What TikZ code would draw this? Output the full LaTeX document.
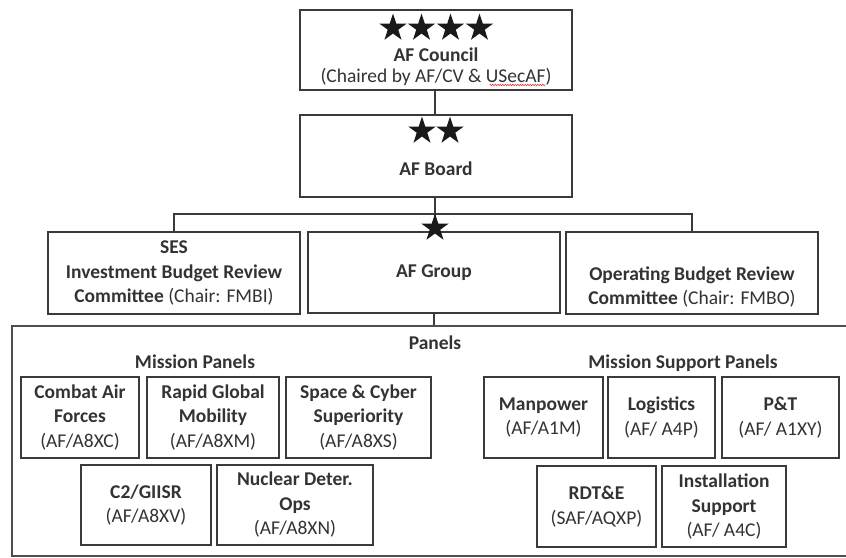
\documentclass[tikz,border=0pt]{standalone}
\usepackage{fontspec}
\setmainfont{Carlito}
\usetikzlibrary{shapes.geometric,decorations.pathmorphing}
\definecolor{ln}{HTML}{3A3A3A}
\definecolor{tx}{HTML}{333333}
\definecolor{squig}{HTML}{D04040}
\tikzset{
  box/.style={draw=ln, line width=1.3pt, inner sep=0pt, align=center, text=tx,
    font=\fontsize{19.5}{24.5}\selectfont},
  conn/.style={draw=ln, line width=1.3pt},
  bigstar/.style={star, star points=5, star point ratio=2.618, fill=black!90, draw=none,
    inner sep=0pt, minimum size=29pt},
  lbl/.style={text=tx, inner sep=0pt, font=\fontsize{19.5}{24.5}\selectfont\bfseries},
}
\begin{document}
\begin{tikzpicture}[x=1pt,y=-1pt]
\clip (0,0) rectangle (846,557);
\fill[white] (0,0) rectangle (846,557);
% top boxes
\node[box, minimum width=272pt, minimum height=80pt] (council) at (436,50) {};
\node[box, minimum width=272pt, minimum height=82pt] (board) at (436,156) {};
\foreach \i/\x in {1/393,2/421.5,3/450.5,4/479.5}
  \node[bigstar] (cs\i) at (\x,28) {};
\foreach \i/\x in {1/422,2/450}
  \node[bigstar] (bs\i) at (\x,131) {};
\node[lbl, anchor=base] (councilt) at (436,61) {AF Council};
\node[lbl, anchor=base, font=\fontsize{19.5}{24.5}\selectfont] (chair) at (436,82) {(Chaired by AF/CV \& USecAF)};
\draw[squig, line width=0.6pt, decorate, decoration={zigzag, amplitude=0.8pt, segment length=2.5pt}]
  (chair.base east) ++(-62,3) coordinate (sqa) -- ++(56,0) coordinate (sqb);
\node[lbl, anchor=base] (boardt) at (436,175) {AF Board};
% second row
\node[box, minimum width=252pt, minimum height=82pt] (ses) at (174,273)
  {\textbf{SES}\\\textbf{Investment Budget Review}\\\textbf{Committee} (Chair: FMBI)};
\node[box, minimum width=252pt, minimum height=81pt] (group) at (434,272.5)
  {\textbf{AF Group}};
\node[box, minimum width=252pt, minimum height=82pt] (ops) at (692,273)
  {\strut\\\textbf{Operating Budget Review}\\\textbf{Committee} (Chair: FMBO)};
% panels frame
\node[box, minimum width=840pt, minimum height=230pt, draw=ln!90] (panels) at (432,441) {};
\node[lbl, anchor=base] (panelst) at (435,349) {Panels};
\node[lbl, anchor=base] (mpt) at (195,368) {Mission Panels};
\node[lbl, anchor=base] (mspt) at (683,368) {Mission Support Panels};
% mission panels
\node[box, minimum width=118pt, minimum height=81pt] (combat) at (80,417.5)
  {\textbf{Combat Air}\\\textbf{Forces}\\(AF/A8XC)};
\node[box, minimum width=132pt, minimum height=81pt] (rapid) at (213,417.5)
  {\textbf{Rapid Global}\\\textbf{Mobility}\\(AF/A8XM)};
\node[box, minimum width=145pt, minimum height=81pt] (space) at (358.5,417.5)
  {\textbf{Space \& Cyber}\\\textbf{Superiority}\\(AF/A8XS)};
\node[box, minimum width=130pt, minimum height=80pt] (c2) at (146,505)
  {\textbf{C2/GIISR}\\(AF/A8XV)};
\node[box, minimum width=156pt, minimum height=80pt] (nuclear) at (295,505)
  {\textbf{Nuclear Deter.}\\\textbf{Ops}\\(AF/A8XN)};
% mission support panels
\node[box, minimum width=119pt, minimum height=81pt] (manpower) at (543.5,417.5)
  {\textbf{Manpower}\\(AF/A1M)};
\node[box, minimum width=107pt, minimum height=81pt] (logistics) at (661.5,417.5)
  {\textbf{Logistics}\\(AF/ A4P)};
\node[box, minimum width=117pt, minimum height=81pt] (pt) at (780.5,417.5)
  {\textbf{P\&T}\\(AF/ A1XY)};
\node[box, minimum width=119pt, minimum height=81pt] (rdte) at (596.5,506.5)
  {\textbf{RDT\&E}\\(SAF/AQXP)};
\node[box, minimum width=124pt, minimum height=81pt] (install) at (724,506.5)
  {\textbf{Installation}\\\textbf{Support}\\(AF/ A4C)};
% connectors
\coordinate (barM) at (435,214);
\draw[conn] (council.south -| 435,0) -- (board.north -| 435,0);
\draw[conn] (board.south -| barM) -- (barM);
\draw[conn] (ses.north) |- (barM) -| (ops.north);
\draw[conn] (barM) -- (barM |- group.north);
\node[bigstar] (gs) at (435,228) {};
\draw[conn] (group.south) -- (group.south |- panels.north);
\end{tikzpicture}
\end{document}
